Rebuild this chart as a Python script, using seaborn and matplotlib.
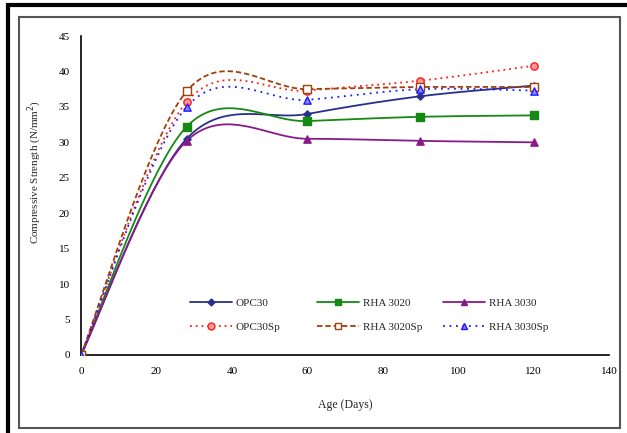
import numpy as np
import pandas as pd
import matplotlib
matplotlib.use("Agg")
import matplotlib.pyplot as plt
from matplotlib.lines import Line2D
from matplotlib.patches import Rectangle
import seaborn as sns

# ---- data ----
age = [0, 28, 60, 90, 120]
opc30 = [0, 30.5, 34.0, 36.5, 38.0]
rha3020 = [0, 32.2, 33.0, 33.6, 33.8]
rha3030 = [0, 30.2, 30.5, 30.2, 30.0]
opc30sp = [0, 35.7, 37.3, 38.7, 40.8]
rha3020sp = [0, 37.2, 37.5, 37.8, 37.8]
rha3030sp = [0, 35.0, 36.0, 37.5, 37.3]
labels = ["OPC30", "RHA 3020", "RHA 3030", "OPC30Sp", "RHA 3020Sp", "RHA 3030Sp"]
xticks = [0, 20, 40, 60, 80, 100, 120, 140]
yticks = [0, 5, 10, 15, 20, 25, 30, 35, 40, 45]

series = [opc30, rha3020, rha3030, opc30sp, rha3020sp, rha3030sp]
colors = ["#28308a", "#148a14", "#8a1a8a", "#ff1a1a", "#a0400a", "#1a1aff"]
styles = ["-", "-", "-", (0, (1, 2.2)), (0, (3, 1.6)), (0, (1, 2.6))]
markers = ["D", "s", "^", "o", "s", "^"]
mfcs = ["#28308a", "#148a14", "#8a1a8a", "#ff9a9a", "white", "#8a8aff"]
msizes = [3.5, 5, 5, 5, 5, 5]


def smooth(x, y, n=40):
    pts = np.column_stack([x, y]).astype(float)
    out = []
    for i in range(len(pts) - 1):
        p0 = pts[i - 1] if i > 0 else pts[i]
        p1, p2 = pts[i], pts[i + 1]
        p3 = pts[i + 2] if i + 2 < len(pts) else pts[i + 1]
        c1 = p1 + (p2 - p0) / 6
        c2 = p2 - (p3 - p1) / 6
        t = np.linspace(0, 1, n)[:, None]
        seg = (1 - t) ** 3 * p1 + 3 * (1 - t) ** 2 * t * c1 + 3 * (1 - t) * t ** 2 * c2 + t ** 3 * p2
        out.append(seg if i == 0 else seg[1:])
    return np.vstack(out)


sns.set_theme(style="white")
plt.rcParams["font.family"] = ["Liberation Serif", "DejaVu Serif"]

fig = plt.figure(figsize=(6.27, 4.33), dpi=100)
ax = fig.add_axes([81 / 627, 1 - 355 / 433, 528 / 627, 319 / 433])

handles = []
for vals, lab, c, ls, mk, mfc, ms in zip(series, labels, colors, styles, markers, mfcs, msizes):
    sm = smooth(age, vals)
    df = pd.DataFrame({"x": sm[:, 0], "y": sm[:, 1]})
    sns.lineplot(data=df, x="x", y="y", ax=ax, color=c, lw=1.3, sort=False,
                 estimator=None, legend=False)
    ax.lines[-1].set_linestyle(ls)
    pts = pd.DataFrame({"x": age, "y": vals})
    sns.scatterplot(data=pts, x="x", y="y", ax=ax, marker=mk, s=ms ** 2 * 1.1,
                    color=mfc, edgecolor=c, linewidth=1.0, legend=False, zorder=5)
    handles.append(Line2D([], [], color=c, lw=1.3, linestyle=ls, marker=mk,
                          markersize=ms, markerfacecolor=mfc, markeredgecolor=c))

# three legend columns, each placed where the reference has it
col_x = [190, 317, 443]
for k in range(3):
    leg = ax.legend([handles[k], handles[k + 3]], [labels[k], labels[k + 3]],
                    loc="upper left", bbox_to_anchor=((col_x[k] - 81) / 528, (355 - 298) / 319),
                    frameon=False, fontsize=8, handlelength=3.8, handletextpad=0.3,
                    labelspacing=1.3, borderpad=0, borderaxespad=0)
    if k < 2:
        ax.add_artist(leg)

ax.set_xlim(0, 140)
ax.set_ylim(0, 45)
ax.set_xticks(xticks)
ax.set_yticks(yticks)
ax.tick_params(axis="x", direction="inout", length=7, width=1.2, labelsize=8, pad=5, colors="black")
ax.tick_params(axis="y", direction="out", length=5, width=1.2, labelsize=8, pad=3, colors="black")
for s in ["top", "right"]:
    ax.spines[s].set_visible(False)
for s in ["left", "bottom"]:
    ax.spines[s].set_color("black")
    ax.spines[s].set_linewidth(1.2)
ax.set_xlabel("Age (Days)", fontsize=8.5)
ax.set_ylabel("Compressive Strength (N/mm$^2$)", fontsize=8)
ax.xaxis.set_label_coords(0.5, (355 - 399) / 319)
ax.yaxis.set_label_coords((44 - 81) / 528, (355 - 172) / 319)

# outer frames
fig.patches.append(Rectangle((8 / 627, -0.02), 1.1, 1 - 5 / 433 + 0.02, transform=fig.transFigure,
                             fill=False, edgecolor="black", lw=3))
fig.patches.append(Rectangle((19 / 627, 1 - 428 / 433), (620 - 19) / 627, (428 - 17) / 433,
                             transform=fig.transFigure, fill=False, edgecolor="#555555", lw=1.5))

fig.savefig("out.png", dpi=100)
